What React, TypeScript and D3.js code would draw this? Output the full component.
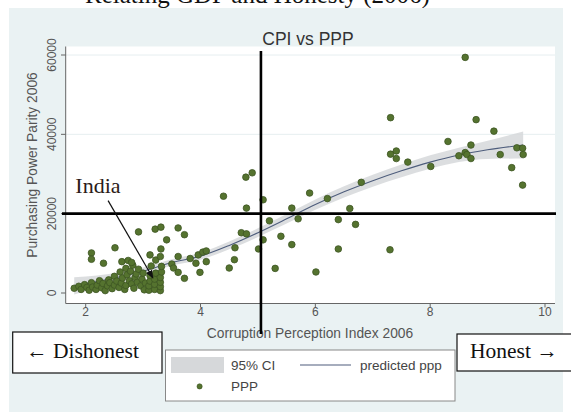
import * as d3 from "d3";

// scatter: [CPI 2006, PPP 2006]
const clusterPoints: [number, number][] = [
  [1.8, 1200], [1.88, 1700], [1.92, 900], [1.98, 2100], [2.02, 1400], [2.06, 700],
  [2.1, 2600], [2.12, 1500], [2.18, 900], [2.2, 2000], [2.24, 3100], [2.28, 1300],
  [2.3, 2400], [2.34, 600], [2.38, 1800], [2.4, 3300], [2.42, 2600], [2.46, 1100],
  [2.5, 4200], [2.5, 2000], [2.54, 3000], [2.58, 1400], [2.6, 5300], [2.62, 2500],
  [2.64, 3800], [2.68, 900], [2.7, 6200], [2.7, 1900], [2.72, 4600], [2.76, 3100],
  [2.78, 5500], [2.8, 2300], [2.82, 7000], [2.84, 1200], [2.86, 3900], [2.88, 4800],
  [2.9, 2700], [2.92, 6000], [2.96, 1800], [2.98, 3500], [3.0, 5000], [3.02, 800],
  [3.04, 2500], [3.1, 700], [3.1, 1800], [3.12, 3000], [3.12, 4400], [3.14, 6800],
  [3.2, 900], [3.2, 2200], [3.2, 3500], [3.22, 5000], [3.22, 8300], [3.3, 600],
  [3.3, 1600], [3.3, 2700], [3.3, 3900], [3.32, 5300], [3.32, 6700], [3.3, 9200],
];

const midPoints: [number, number][] = [
  [2.92, 15400], [3.21, 16100], [3.31, 16600], [3.61, 16400], [3.41, 13400], [3.72, 14700],
  [2.51, 11400], [2.1, 10100], [2.1, 8500], [2.31, 7500], [3.31, 11100], [3.12, 9600],
  [3.61, 9200], [3.5, 7300], [3.53, 6300], [3.61, 5200], [3.72, 3700], [2.63, 7900],
  [2.74, 8200], [2.8, 7700], [3.82, 8700], [3.96, 9600], [4.04, 10300], [4.1, 10600],
  [3.92, 7500], [4.1, 7900], [3.99, 5200], [4.4, 24400], [4.79, 29200], [4.9, 30300],
  [4.8, 21400], [5.09, 23500], [5.2, 18200], [5.59, 21400], [5.7, 18700], [4.71, 15200],
  [4.8, 14900], [4.6, 11400], [4.59, 8400], [4.5, 6300], [5.09, 13400], [5.01, 11100],
  [5.4, 14300], [5.59, 12200], [5.3, 6200],
];

const highPoints: [number, number][] = [
  [5.9, 25200], [6.21, 23800], [6.8, 27900], [6.6, 21300], [6.4, 18500], [6.7, 17300],
  [6.4, 11100], [6.01, 5300], [7.31, 44200], [7.31, 35000], [7.41, 35800], [7.41, 33900],
  [7.61, 33000], [8.01, 31900], [8.31, 38200], [8.61, 59400], [8.8, 43700], [9.11, 40800],
  [8.5, 34600], [8.61, 35400], [8.64, 34900], [8.71, 33900], [8.71, 37300], [9.22, 34900],
  [9.42, 31600], [9.51, 36600], [9.61, 36500], [9.62, 34900], [9.61, 27200], [7.3, 10900],
];

// smoothed fit and 95% CI half-width
const fitCpi = [1.8, 2.2, 2.6, 3.0, 3.5, 4.0, 4.5, 5.0, 5.5, 6.0, 6.5, 7.0, 7.5, 8.0, 8.5, 9.0, 9.62];
const fitPpp = [1800, 2900, 4100, 5500, 7700, 9300, 12000, 15200, 18700, 22300, 25500, 28300, 30800, 33000, 34800, 36100, 37300];
const fitHalf = [2200, 1500, 1100, 900, 800, 900, 1000, 1100, 1200, 1300, 1400, 1500, 1600, 1700, 1800, 2300, 3400];

const xTicks = [2, 4, 6, 8, 10];
const yTicks = [0, 20000, 40000, 60000];
const cutCpi = 5;
const cutPpp = 20000;
const indiaFrom: [number, number] = [2.39, 23300];
const indiaTo: [number, number] = [3.17, 3800];
const indiaLabel: [number, number] = [1.82, 25100];

const W = 571;
const H = 412;
const sans = "'Liberation Sans', Arial, sans-serif";
const serif = "'Liberation Serif', 'Times New Roman', serif";

export default function App() {
  const x = d3.scaleLinear().domain([2, 10]).range([85.7, 545]);
  const y = d3.scaleLinear().domain([0, 60000]).range([293, 55]);
  const plot = { left: 65.7, right: 555, top: 46.5, bottom: 303.5 };

  const points = [...clusterPoints, ...midPoints, ...highPoints];
  const fit = fitCpi.map((c, i) => ({ c, p: fitPpp[i], h: fitHalf[i] }));

  const band = d3
    .area<{ c: number; p: number; h: number }>()
    .x((d) => x(d.c))
    .y0((d) => y(d.p - d.h))
    .y1((d) => y(d.p + d.h))
    .curve(d3.curveMonotoneX);
  const line = d3
    .line<{ c: number; p: number }>()
    .x((d) => x(d.c))
    .y((d) => y(d.p))
    .curve(d3.curveMonotoneX);

  return (
    <svg
      width={W}
      height={H}
      style={{ position: "absolute", left: 0, top: 0, background: "#fff" }}
    >
      <defs>
        <marker id="ah" viewBox="0 0 10 10" refX="9" refY="5" markerWidth="7" markerHeight="7" orient="auto">
          <path d="M0,1 L10,5 L0,9 z" fill="#111" />
        </marker>
      </defs>

      {/* cropped page heading */}
      <text x={85} y={3} fontFamily={serif} fontSize={25} fill="#111">
        Relating GDP and Honesty (2006)
      </text>

      <rect x={9} y={8} width={554} height={H - 8} fill="#eaf2f3" />
      <rect
        x={plot.left}
        y={plot.top}
        width={plot.right - plot.left}
        height={plot.bottom - plot.top}
        fill="#fff"
      />

      {/* grid */}
      {yTicks.slice(1).map((t) => (
        <line key={"g" + t} x1={plot.left} x2={plot.right} y1={y(t)} y2={y(t)} stroke="#e6eef0" strokeWidth={1} />
      ))}

      <text x={308} y={45} textAnchor="middle" fontFamily={sans} fontSize={17.5} fill="#333">
        CPI vs PPP
      </text>

      {/* fit */}
      <path d={band(fit) || ""} fill="#d6d8da" opacity={0.85} />
      <path d={line(fit) || ""} fill="none" stroke="#4e5d7c" strokeWidth={1.1} />

      {/* axes */}
      <line x1={plot.left} x2={plot.left} y1={plot.top} y2={plot.bottom} stroke="#666" />
      <line x1={plot.left} x2={plot.right} y1={plot.bottom} y2={plot.bottom} stroke="#666" />
      {yTicks.map((t) => (
        <g key={"y" + t}>
          <line x1={61} x2={plot.left} y1={y(t)} y2={y(t)} stroke="#666" />
          <text
            transform={`translate(56,${y(t)}) rotate(-90)`}
            textAnchor="middle"
            fontFamily={sans}
            fontSize={12}
            fill="#555"
          >
            {t}
          </text>
        </g>
      ))}
      {xTicks.map((t) => (
        <g key={"x" + t}>
          <line x1={x(t)} x2={x(t)} y1={plot.bottom} y2={plot.bottom + 4} stroke="#666" />
          <text x={x(t)} y={316} textAnchor="middle" fontFamily={sans} fontSize={12} fill="#555">
            {t}
          </text>
        </g>
      ))}
      <text
        transform="translate(36.5,165) rotate(-90)"
        textAnchor="middle"
        fontFamily={sans}
        fontSize={13.8}
        fill="#555"
      >
        Purchasing Power Parity 2006
      </text>
      <text x={310} y={337.5} textAnchor="middle" fontFamily={sans} fontSize={13.8} fill="#555">
        Corruption Perception Index 2006
      </text>

      {/* scatter */}
      {points.map((d, i) => (
        <circle key={i} cx={x(d[0])} cy={y(d[1])} r={3.3} fill="#55732f" stroke="#3d5523" strokeWidth={0.8} />
      ))}

      {/* reference lines */}
      <line x1={x(cutCpi) + 3} x2={x(cutCpi) + 3} y1={51} y2={334} stroke="#000" strokeWidth={2.6} />
      <line x1={62} x2={556} y1={y(cutPpp)} y2={y(cutPpp)} stroke="#000" strokeWidth={2.6} />

      {/* India annotation */}
      <text x={x(indiaLabel[0])} y={y(indiaLabel[1])} fontFamily={serif} fontSize={22} fill="#2b1b17">
        India
      </text>
      <line
        x1={x(indiaFrom[0])}
        y1={y(indiaFrom[1])}
        x2={x(indiaTo[0])}
        y2={y(indiaTo[1])}
        stroke="#111"
        strokeWidth={1.2}
        markerEnd="url(#ah)"
      />

      {/* legend */}
      <rect x={165.5} y={350} width={289.5} height={51} fill="#fff" stroke="#888" strokeWidth={1} />
      <rect x={171} y={357} width={53} height={16} fill="#d6d8da" />
      <text x={231} y={369.5} fontFamily={sans} fontSize={13.5} fill="#444">95% CI</text>
      <line x1={300} x2={351} y1={365} y2={365} stroke="#4e5d7c" strokeWidth={1.1} />
      <text x={360} y={369.5} fontFamily={sans} fontSize={13.5} fill="#444">predicted ppp</text>
      <circle cx={199.6} cy={386.4} r={2.6} fill="#55732f" stroke="#3d5523" strokeWidth={0.6} />
      <text x={231} y={391} fontFamily={sans} fontSize={13.5} fill="#444">PPP</text>

      {/* direction boxes */}
      <rect x={12.7} y={332} width={149.3} height={41} fill="#fff" stroke="#111" strokeWidth={1.2} />
      <text x={26} y={358} fontFamily={serif} fontSize={21.5} fill="#111">← Dishonest</text>
      <rect x={457} y={334} width={120} height={37} fill="#fff" stroke="#111" strokeWidth={1.2} />
      <text x={470} y={358} fontFamily={serif} fontSize={21.5} fill="#111">Honest →</text>
    </svg>
  );
}
